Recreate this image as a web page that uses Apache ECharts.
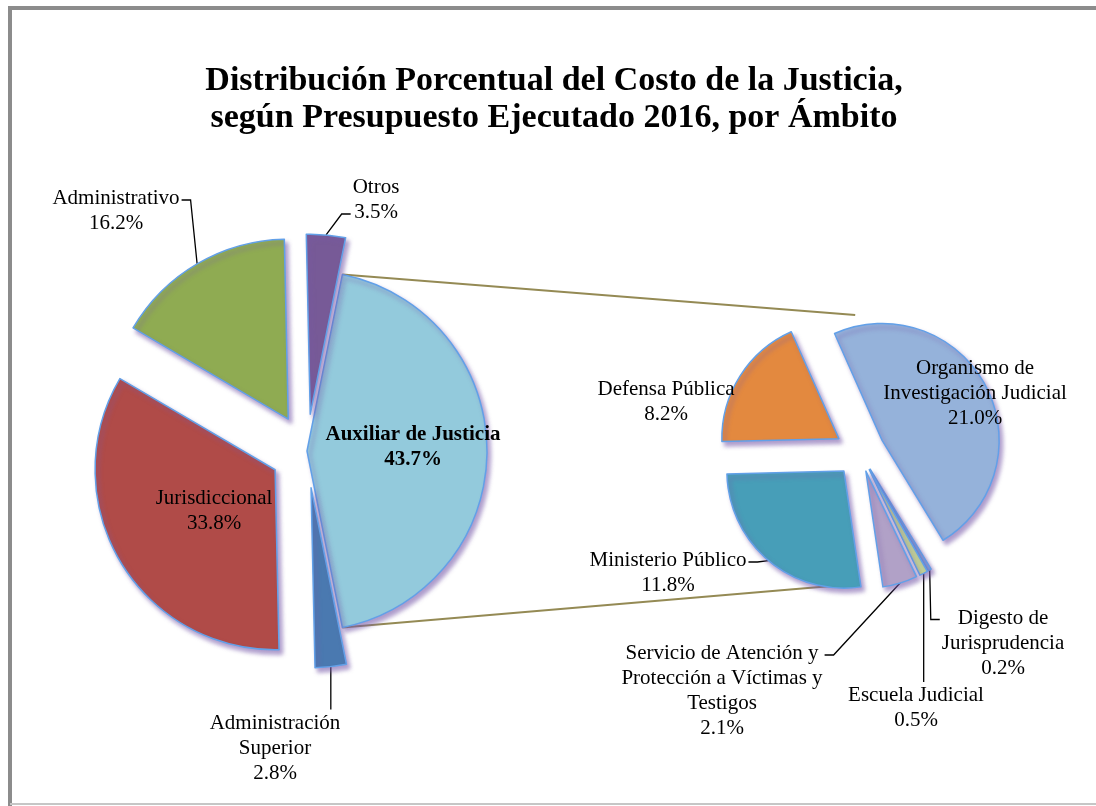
<!DOCTYPE html>
<html>
<head>
<meta charset="utf-8">
<script src="https://cdn.jsdelivr.net/npm/echarts@6/dist/echarts.min.js"></script>
<style>
html, body { margin: 0; padding: 0; background: #fff; }
#canvas { width: 1096px; height: 806px; }
</style>
</head>
<body>
<div id="canvas"></div>
<script>
// datos: costo de la justicia 2016 por ámbito (%)
var ambitos = ['Auxiliar de Justicia', 'Administración\nSuperior', 'Jurisdiccional', 'Administrativo', 'Otros'];
var ambitoPct = [43.7, 2.8, 33.8, 16.2, 3.5];

// desglose de Auxiliar de Justicia (%)
var auxiliares = ['Organismo de\nInvestigación Judicial', 'Digesto de\nJurisprudencia', 'Escuela Judicial',
    'Servicio de Atención y\nProtección a Víctimas y\nTestigos', 'Ministerio Público', 'Defensa Pública'];
var auxiliarPct = [21.0, 0.2, 0.5, 2.1, 11.8, 8.2];

var coloresIzq = ['#93cadc', '#4a79b0', '#b04b48', '#8fab52', '#775a97'];
var coloresDer = ['#95b2da', '#8db4e2', '#c4d794', '#b1a1c7', '#479eb8', '#e3893f'];

// posiciones de etiquetas (centro del texto), líneas guía y separación de cada porción
var posIzq = [[413, 447], [275, 748], [214, 511], [116, 211], [376, 200]];
var posDer = [[975, 393], [1003, 643], [916, 708], [722, 691], [668, 573], [666, 402]];
var guiaIzq = [null, { lado: 'arriba' }, null, { lado: 'der', fila: 0 }, { lado: 'izq', fila: 1 }];
var guiaDer = [null, { lado: 'izq', fila: 0 }, { lado: 'arriba' }, { lado: 'der', fila: 0 }, { lado: 'der', fila: 0 }, null];
var sepIzq = [0, 37, 37, 37, 37];
var sepDer = [25, 20, 20, 20, 25, 25];

var centroIzq = [307, 451], radioIzq = 180;
var centroDer = [860, 452], radioDer = 117;

var dom = document.getElementById("canvas");
var myChart = echarts.init(dom);

var fuente = 'Liberation Serif, Times New Roman, serif';
var estilo = {
    borderColor: '#62a0e8', borderWidth: 1.5,
    shadowBlur: 4, shadowColor: 'rgba(120,90,170,0.6)', shadowOffsetX: 3, shadowOffsetY: 4
};
var oculto = { color: 'none', opacity: 0, borderWidth: 0, shadowBlur: 0, shadowOffsetX: 0, shadowOffsetY: 0 };

// una serie por porción para poder separar cada una (pie explotado)
function porciones(nombre, nombres, valores, colores, centro, radio, inicio, sep, pos, guias) {
    var total = valores.reduce(function (a, b) { return a + b; }, 0);
    var acum = 0;
    return nombres.map(function (n, k) {
        var medio = (inicio - (acum + valores[k] / 2) / total * 360) * Math.PI / 180;
        acum += valores[k];
        var c = [centro[0] + sep[k] * Math.cos(medio), centro[1] - sep[k] * Math.sin(medio)];
        return {
            name: nombre,
            type: 'pie',
            silent: true,
            center: c,
            radius: radio,
            startAngle: inicio,
            clockwise: true,
            avoidLabelOverlap: false,
            itemStyle: estilo,
            emphasis: { disabled: true },
            label: {
                show: true, position: 'outside', fontFamily: fuente, fontSize: 21, lineHeight: 25,
                color: '#000', align: 'center', fontWeight: (k === 0 && nombre === 'Ámbito') ? 'bold' : 'normal',
                formatter: function (p) { return p.name + '\n' + p.value.toFixed(1) + '%'; }
            },
            labelLine: { show: !!guias[k], length: 8, length2: 8, lineStyle: { color: '#000', width: 1.3 } },
            labelLayout: function (p) {
                if (p.dataIndex !== k) return {};
                var x = pos[k][0], y = pos[k][1];
                var res = { x: x, y: y, align: 'center', verticalAlign: 'middle' };
                var g = guias[k];
                if (g) {
                    var w = p.labelRect.width, h = p.labelRect.height;
                    var arco = [c[0] + radio * Math.cos(medio), c[1] - radio * Math.sin(medio)];
                    if (g.lado === 'arriba') {
                        var tope = y - h / 2 - 1;
                        res.labelLinePoints = [arco, [arco[0], (arco[1] + tope) / 2], [arco[0], tope]];
                    } else {
                        var fy = y - h / 2 + 25 * g.fila + 14;
                        var s = g.lado === 'der' ? 1 : -1;
                        var ex = x + s * (w / 2 + 2);
                        res.labelLinePoints = [arco, [ex + s * 9, fy], [ex, fy]];
                    }
                }
                return res;
            },
            data: nombres.map(function (m, i) {
                var d = { name: m, value: valores[i], itemStyle: { color: colores[i] } };
                if (i !== k) {
                    d.itemStyle = oculto;
                    d.label = { show: false };
                    d.labelLine = { show: false };
                }
                return d;
            })
        };
    });
}

var totalIzq = ambitoPct.reduce(function (a, b) { return a + b; }, 0);
var inicioIzq = ambitoPct[0] / totalIzq * 180; // Auxiliar centrado a la derecha
var inicioDer = 114;

var rad = inicioIzq * Math.PI / 180;
var pIzqArriba = [centroIzq[0] + radioIzq * Math.cos(rad), centroIzq[1] - radioIzq * Math.sin(rad)];
var pIzqAbajo = [centroIzq[0] + radioIzq * Math.cos(rad), centroIzq[1] + radioIzq * Math.sin(rad)];
var a1 = 92 * Math.PI / 180, a2 = -102 * Math.PI / 180, rr = radioDer + 20;
var pDerArriba = [centroDer[0] + rr * Math.cos(a1), centroDer[1] - rr * Math.sin(a1)];
var pDerAbajo = [centroDer[0] + rr * Math.cos(a2), centroDer[1] - rr * Math.sin(a2)];

option = {
    backgroundColor: '#fff',
    animation: false,
    title: {
        text: 'Distribución Porcentual del Costo de la Justicia,\nsegún Presupuesto Ejecutado 2016, por Ámbito',
        left: 549, top: 58, textAlign: 'center',
        textStyle: { fontFamily: fuente, fontWeight: 'bold', fontSize: 34, lineHeight: 37, color: '#000' }
    },
    graphic: [
        { type: 'polyline', shape: { points: [[10, 810], [10, 8], [1100, 8]] },
          style: { stroke: '#8c8c8c', lineWidth: 4, fill: null } },
        { type: 'line', shape: { x1: 10, y1: 804, x2: 1096, y2: 804 },
          style: { stroke: '#c6c6c6', lineWidth: 2 } },
        { type: 'line', shape: { x1: pIzqArriba[0], y1: pIzqArriba[1], x2: pDerArriba[0], y2: pDerArriba[1] },
          style: { stroke: '#948a54', lineWidth: 2 } },
        { type: 'line', shape: { x1: pIzqAbajo[0], y1: pIzqAbajo[1], x2: pDerAbajo[0], y2: pDerAbajo[1] },
          style: { stroke: '#948a54', lineWidth: 2 } }
    ],
    series: porciones('Ámbito', ambitos, ambitoPct, coloresIzq, centroIzq, radioIzq, inicioIzq, sepIzq, posIzq, guiaIzq)
        .concat(porciones('Auxiliar de Justicia', auxiliares, auxiliarPct, coloresDer, centroDer, radioDer, inicioDer, sepDer, posDer, guiaDer))
};
if (option && typeof option === "object") {
    myChart.setOption(option, true);
}
</script>
</body>
</html>
